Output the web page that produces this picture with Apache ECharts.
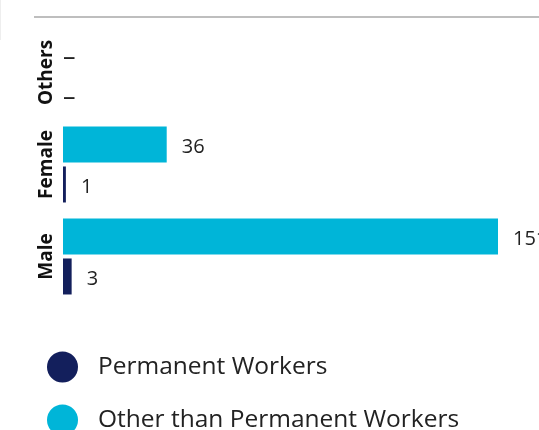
<!DOCTYPE html>
<html>
<head>
<meta charset="utf-8">
<script src="https://cdn.jsdelivr.net/npm/echarts@6/dist/echarts.min.js"></script>
<style>
html,body{margin:0;padding:0;background:#fff;}
#chart{width:539px;height:430px;}
</style>
</head>
<body>
<div id="chart"></div>
<script>
var categories = ['Male', 'Female', 'Others'];
var seriesNames = ['Permanent Workers', 'Other than Permanent Workers'];
var permanentValues = [3, 1, 0];
var otherValues = [151, 36, 0];
var xMax = 151;

var NAVY = '#131f5c';
var CYAN = '#00b5d8';
var FONT = '"Open Sans", sans-serif';

function toData(arr) {
  return arr.map(function (v) {
    if (v === 0) {
      return { value: 0, label: { distance: 0, fontSize: 25, offset: [0, 5] } };
    }
    return v;
  });
}

function labelCfg() {
  return {
    show: true,
    position: 'right',
    distance: 15,
    offset: [0, 2.5],
    fontFamily: FONT,
    fontSize: 20,
    color: '#222',
    formatter: function (p) { return p.value === 0 ? '–' : String(p.value); }
  };
}

function legendCfg(name, top) {
  return {
    orient: 'vertical',
    left: 47,
    top: top,
    padding: 0,
    itemWidth: 31,
    itemHeight: 31,
    icon: 'circle',
    data: [name],
    textStyle: { fontFamily: FONT, fontSize: 24.5, color: '#222', padding: [0, 0, 0, 15] }
  };
}

var chart = echarts.init(document.getElementById('chart'), null, { renderer: 'canvas' });
chart.setOption({
  animation: false,
  backgroundColor: '#fff',
  graphic: [
    { type: 'line', shape: { x1: 34, y1: 17, x2: 539, y2: 17 }, style: { stroke: '#a9a9a9', lineWidth: 1.5 } },
    { type: 'line', shape: { x1: 0.5, y1: 0, x2: 0.5, y2: 40 }, style: { stroke: '#eeeeee', lineWidth: 1 } }
  ],
  grid: { left: 63, right: 41, top: 26.5, bottom: 127.5, containLabel: false },
  xAxis: { type: 'value', min: 0, max: xMax, show: false },
  yAxis: {
    type: 'category',
    data: categories,
    axisLine: { show: false },
    axisTick: { show: false },
    splitLine: { show: false },
    axisLabel: {
      rotate: 90,
      margin: 7,
      fontFamily: FONT,
      fontWeight: 'bold',
      fontSize: 19,
      color: '#111'
    }
  },
  legend: [
    legendCfg(seriesNames[0], 351.5),
    legendCfg(seriesNames[1], 404.5)
  ],
  series: [
    {
      name: seriesNames[1],
      type: 'bar',
      data: toData(otherValues),
      barWidth: 36,
      barGap: '11%',
      itemStyle: { color: CYAN },
      label: labelCfg()
    },
    {
      name: seriesNames[0],
      type: 'bar',
      data: toData(permanentValues),
      barWidth: 36,
      barGap: '11%',
      itemStyle: { color: NAVY },
      label: labelCfg()
    }
  ]
});
</script>
</body>
</html>
